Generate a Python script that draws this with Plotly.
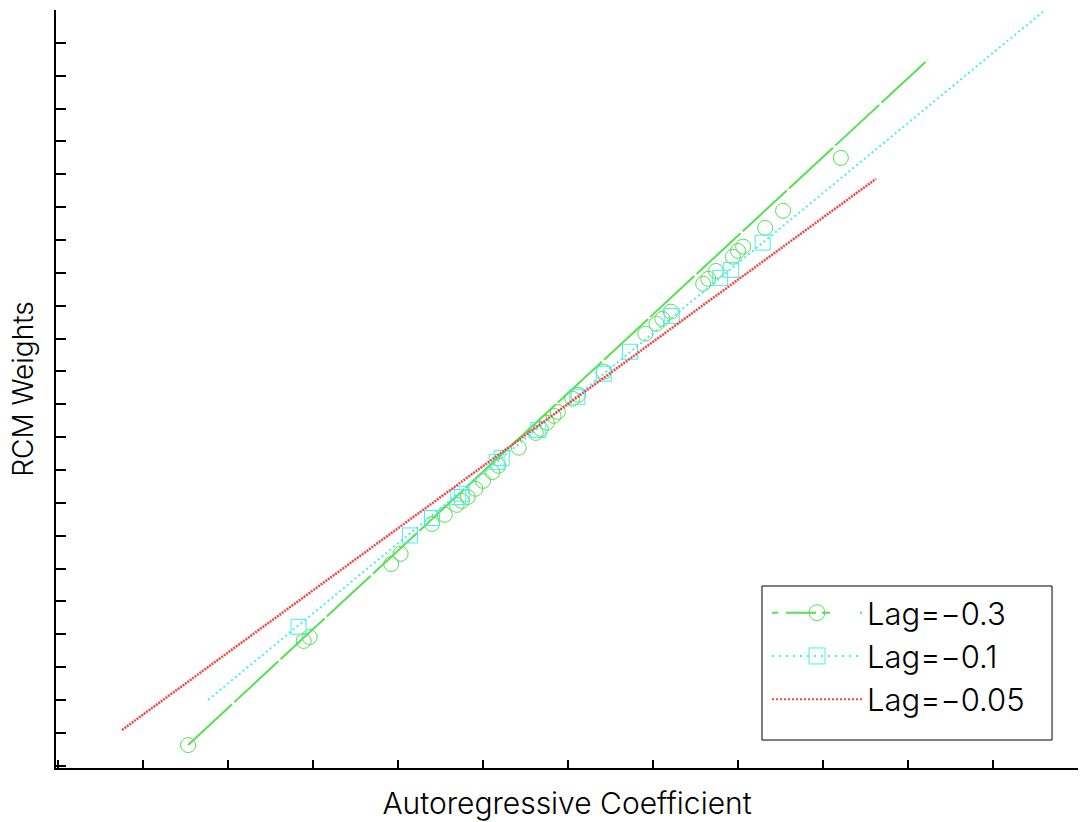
import plotly.graph_objects as go

# ---- data ----
lag03_x = [-0.447, -0.311, -0.304, -0.208, -0.197, -0.160, -0.145, -0.131, -0.125, -0.118,
           -0.109, -0.100, -0.089, -0.082, -0.058, -0.038, -0.032, -0.025, -0.017, -0.012,
           0.005, 0.012, 0.042, 0.091, 0.104, 0.111, 0.121, 0.159, 0.165, 0.174,
           0.194, 0.200, 0.206, 0.232, 0.253, 0.321]
lag03_y = [-1.037, -0.720, -0.708, -0.486, -0.455, -0.364, -0.336, -0.306, -0.294, -0.282,
           -0.257, -0.233, -0.206, -0.187, -0.132, -0.087, -0.075, -0.056, -0.035, -0.023,
           0.017, 0.029, 0.099, 0.215, 0.245, 0.260, 0.282, 0.367, 0.382, 0.406,
           0.449, 0.467, 0.480, 0.537, 0.589, 0.750]
lag03_line_x = [-0.447, 0.4235]
lag03_line_y = [-1.0365, 1.0487]

lag01_x = [-0.317, -0.186, -0.160, -0.129, -0.125, -0.084, -0.078, -0.035, 0.011,
           0.042, 0.073, 0.122, 0.179, 0.192, 0.229]
lag01_y = [-0.677, -0.399, -0.346, -0.282, -0.272, -0.175, -0.163, -0.078, 0.023,
           0.093, 0.160, 0.269, 0.385, 0.409, 0.492]
lag01_line_x = [-0.4235, 0.5588]
lag01_line_y = [-0.8995, 1.1948]

lag005_line_x = [-0.5247, 0.3624]
lag005_line_y = [-0.9909, 0.6864]

names = ["Lag=\u22120.3", "Lag=\u22120.1", "Lag=\u22120.05"]
GREEN = "#55e055"
CYAN = "#48eeee"
RED = "#ee4848"

FONT = "Inter"
WEIGHT = 300

fig = go.Figure()

# Lag=-0.3
fig.add_trace(go.Scatter(x=lag03_line_x, y=lag03_line_y, mode="lines", showlegend=False,
                         line=dict(color=GREEN, width=2, dash="60px,3px")))
fig.add_trace(go.Scatter(x=lag03_x, y=lag03_y, mode="markers", showlegend=False,
                         marker=dict(symbol="circle-open", size=15, color=GREEN,
                                     line=dict(width=1, color=GREEN))))
# Lag=-0.1
fig.add_trace(go.Scatter(x=lag01_line_x, y=lag01_line_y, mode="lines", showlegend=False,
                         line=dict(color=CYAN, width=2, dash="2px,3px")))
fig.add_trace(go.Scatter(x=lag01_x, y=lag01_y, mode="markers", showlegend=False,
                         marker=dict(symbol="square-open", size=15, color=CYAN,
                                     line=dict(width=1, color=CYAN))))
# Lag=-0.05
fig.add_trace(go.Scatter(x=lag005_line_x, y=lag005_line_y, mode="lines", showlegend=False,
                         line=dict(color=RED, width=2.5, dash="2px,1px")))

# legend entries
fig.add_trace(go.Scatter(x=[None], y=[None], mode="lines+markers", name=names[0],
                         line=dict(color=GREEN, width=2, dash="6px,8px,30px"),
                         marker=dict(symbol="circle-open", size=16, color=GREEN,
                                     line=dict(width=1, color=GREEN))))
fig.add_trace(go.Scatter(x=[None], y=[None], mode="lines+markers", name=names[1],
                         line=dict(color=CYAN, width=2, dash="2px,5px"),
                         marker=dict(symbol="square-open", size=16, color=CYAN,
                                     line=dict(width=1, color=CYAN))))
fig.add_trace(go.Scatter(x=[None], y=[None], mode="lines", name=names[2],
                         line=dict(color=RED, width=2, dash="2px,2px")))

# legend frame (decoration, paper coordinates)
fig.add_shape(type="rect", xref="paper", yref="paper",
              x0=0.6908, x1=0.9746, y0=0.0369, y1=0.2401,
              line=dict(color="black", width=1), fillcolor="white", layer="above")

fig.update_layout(
    width=1080, height=822,
    margin=dict(l=56, r=2, t=10, b=54, autoexpand=False),
    paper_bgcolor="white", plot_bgcolor="white",
    font=dict(family=FONT, size=28, color="black", weight=WEIGHT),
    showlegend=True,
    legend=dict(x=0.6957, y=0.0554, xanchor="left", yanchor="bottom",
                bgcolor="rgba(0,0,0,0)", borderwidth=0,
                font=dict(family=FONT, size=31, color="black", weight=WEIGHT),
                itemwidth=90),
)
fig.update_xaxes(range=[-0.6024, 0.6], tick0=0, dtick=0.1, showticklabels=False,
                 ticks="inside", ticklen=8, tickwidth=1.5, tickcolor="black",
                 showline=True, linewidth=2, linecolor="black", showgrid=False,
                 zeroline=False, automargin=False,
                 title=dict(text="Autoregressive Coefficient", standoff=24,
                            font=dict(family=FONT, size=30, color="black", weight=WEIGHT)))
fig.update_yaxes(range=[-1.1067, 1.2], tick0=0, dtick=0.1, showticklabels=False,
                 ticks="inside", ticklen=10, tickwidth=1.5, tickcolor="black",
                 showline=True, linewidth=2, linecolor="black", showgrid=False,
                 zeroline=False, automargin=False,
                 title=dict(text="RCM Weights", standoff=12,
                            font=dict(family=FONT, size=28, color="black", weight=WEIGHT)))

fig.write_html("out.html")
